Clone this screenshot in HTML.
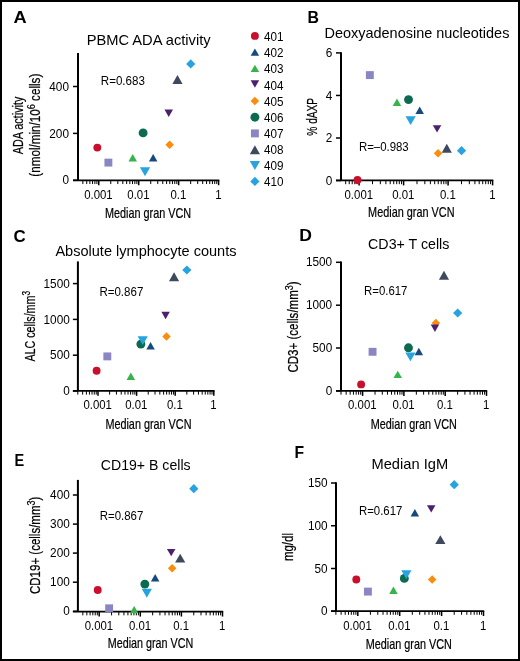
<!DOCTYPE html>
<html><head><meta charset="utf-8"><style>
html,body{margin:0;padding:0;background:#fff;}
body{width:520px;height:661px;overflow:hidden;}
svg{display:block;will-change:transform;}
text{font-family:"Liberation Sans",sans-serif;fill:#000;}
.hv{stroke:#000;stroke-width:0.22px;}
</style></head><body>
<svg width="520" height="661" viewBox="0 0 520 661">
<rect x="0" y="0" width="520" height="661" fill="#fff"/>
<line x1="78" y1="52.9" x2="78" y2="180.25" stroke="#000" stroke-width="2"/>
<line x1="73" y1="180.25" x2="219.3" y2="180.25" stroke="#000" stroke-width="1.75"/>
<line x1="73" y1="180.3" x2="78" y2="180.3" stroke="#000" stroke-width="1.5"/>
<text x="69.00" y="184.40" font-size="12.6" text-anchor="end" font-weight="normal" textLength="6.56" lengthAdjust="spacingAndGlyphs">0</text>
<line x1="73" y1="133.4" x2="78" y2="133.4" stroke="#000" stroke-width="1.5"/>
<text x="69.00" y="137.50" font-size="12.6" text-anchor="end" font-weight="normal" textLength="19.69" lengthAdjust="spacingAndGlyphs">200</text>
<line x1="73" y1="86.5" x2="78" y2="86.5" stroke="#000" stroke-width="1.5"/>
<text x="69.00" y="90.60" font-size="12.6" text-anchor="end" font-weight="normal" textLength="19.69" lengthAdjust="spacingAndGlyphs">400</text>
<line x1="82.85" y1="180.25" x2="82.85" y2="184.05" stroke="#000" stroke-width="1"/>
<line x1="86.72" y1="180.25" x2="86.72" y2="184.05" stroke="#000" stroke-width="1"/>
<line x1="89.89" y1="180.25" x2="89.89" y2="184.05" stroke="#000" stroke-width="1"/>
<line x1="92.56" y1="180.25" x2="92.56" y2="184.05" stroke="#000" stroke-width="1"/>
<line x1="94.88" y1="180.25" x2="94.88" y2="184.05" stroke="#000" stroke-width="1"/>
<line x1="96.92" y1="180.25" x2="96.92" y2="184.05" stroke="#000" stroke-width="1"/>
<line x1="98.75" y1="180.25" x2="98.75" y2="185.25" stroke="#000" stroke-width="1.5"/>
<line x1="110.78" y1="180.25" x2="110.78" y2="184.05" stroke="#000" stroke-width="1"/>
<line x1="117.81" y1="180.25" x2="117.81" y2="184.05" stroke="#000" stroke-width="1"/>
<line x1="122.80" y1="180.25" x2="122.80" y2="184.05" stroke="#000" stroke-width="1"/>
<line x1="126.67" y1="180.25" x2="126.67" y2="184.05" stroke="#000" stroke-width="1"/>
<line x1="129.84" y1="180.25" x2="129.84" y2="184.05" stroke="#000" stroke-width="1"/>
<line x1="132.51" y1="180.25" x2="132.51" y2="184.05" stroke="#000" stroke-width="1"/>
<line x1="134.83" y1="180.25" x2="134.83" y2="184.05" stroke="#000" stroke-width="1"/>
<line x1="136.87" y1="180.25" x2="136.87" y2="184.05" stroke="#000" stroke-width="1"/>
<line x1="138.70" y1="180.25" x2="138.70" y2="185.25" stroke="#000" stroke-width="1.5"/>
<line x1="150.73" y1="180.25" x2="150.73" y2="184.05" stroke="#000" stroke-width="1"/>
<line x1="157.76" y1="180.25" x2="157.76" y2="184.05" stroke="#000" stroke-width="1"/>
<line x1="162.75" y1="180.25" x2="162.75" y2="184.05" stroke="#000" stroke-width="1"/>
<line x1="166.62" y1="180.25" x2="166.62" y2="184.05" stroke="#000" stroke-width="1"/>
<line x1="169.79" y1="180.25" x2="169.79" y2="184.05" stroke="#000" stroke-width="1"/>
<line x1="172.46" y1="180.25" x2="172.46" y2="184.05" stroke="#000" stroke-width="1"/>
<line x1="174.78" y1="180.25" x2="174.78" y2="184.05" stroke="#000" stroke-width="1"/>
<line x1="176.82" y1="180.25" x2="176.82" y2="184.05" stroke="#000" stroke-width="1"/>
<line x1="178.65" y1="180.25" x2="178.65" y2="185.25" stroke="#000" stroke-width="1.5"/>
<line x1="190.68" y1="180.25" x2="190.68" y2="184.05" stroke="#000" stroke-width="1"/>
<line x1="197.71" y1="180.25" x2="197.71" y2="184.05" stroke="#000" stroke-width="1"/>
<line x1="202.70" y1="180.25" x2="202.70" y2="184.05" stroke="#000" stroke-width="1"/>
<line x1="206.57" y1="180.25" x2="206.57" y2="184.05" stroke="#000" stroke-width="1"/>
<line x1="209.74" y1="180.25" x2="209.74" y2="184.05" stroke="#000" stroke-width="1"/>
<line x1="212.41" y1="180.25" x2="212.41" y2="184.05" stroke="#000" stroke-width="1"/>
<line x1="214.73" y1="180.25" x2="214.73" y2="184.05" stroke="#000" stroke-width="1"/>
<line x1="216.77" y1="180.25" x2="216.77" y2="184.05" stroke="#000" stroke-width="1"/>
<line x1="218.60" y1="180.25" x2="218.60" y2="185.25" stroke="#000" stroke-width="1.5"/>
<text x="98.45" y="198.70" font-size="12.0" text-anchor="middle" font-weight="normal" textLength="28.53" lengthAdjust="spacingAndGlyphs">0.001</text>
<text x="138.40" y="198.70" font-size="12.0" text-anchor="middle" font-weight="normal" textLength="22.19" lengthAdjust="spacingAndGlyphs">0.01</text>
<text x="178.35" y="198.70" font-size="12.0" text-anchor="middle" font-weight="normal" textLength="15.85" lengthAdjust="spacingAndGlyphs">0.1</text>
<text x="218.30" y="198.70" font-size="12.0" text-anchor="middle" font-weight="normal" textLength="6.34" lengthAdjust="spacingAndGlyphs">1</text>
<line x1="341" y1="52.3" x2="341" y2="180.4" stroke="#000" stroke-width="2"/>
<line x1="336" y1="180.4" x2="493.3" y2="180.4" stroke="#000" stroke-width="1.75"/>
<line x1="336" y1="180.55" x2="341" y2="180.55" stroke="#000" stroke-width="1.5"/>
<text x="332.40" y="184.65" font-size="12.6" text-anchor="end" font-weight="normal" textLength="6.56" lengthAdjust="spacingAndGlyphs">0</text>
<line x1="336" y1="138.0" x2="341" y2="138.0" stroke="#000" stroke-width="1.5"/>
<text x="332.40" y="142.10" font-size="12.6" text-anchor="end" font-weight="normal" textLength="6.56" lengthAdjust="spacingAndGlyphs">2</text>
<line x1="336" y1="95.45" x2="341" y2="95.45" stroke="#000" stroke-width="1.5"/>
<text x="332.40" y="99.55" font-size="12.6" text-anchor="end" font-weight="normal" textLength="6.56" lengthAdjust="spacingAndGlyphs">4</text>
<line x1="336" y1="52.9" x2="341" y2="52.9" stroke="#000" stroke-width="1.5"/>
<text x="332.40" y="57.00" font-size="12.6" text-anchor="end" font-weight="normal" textLength="6.56" lengthAdjust="spacingAndGlyphs">6</text>
<line x1="345.70" y1="180.4" x2="345.70" y2="184.20000000000002" stroke="#000" stroke-width="1"/>
<line x1="349.23" y1="180.4" x2="349.23" y2="184.20000000000002" stroke="#000" stroke-width="1"/>
<line x1="352.21" y1="180.4" x2="352.21" y2="184.20000000000002" stroke="#000" stroke-width="1"/>
<line x1="354.79" y1="180.4" x2="354.79" y2="184.20000000000002" stroke="#000" stroke-width="1"/>
<line x1="357.06" y1="180.4" x2="357.06" y2="184.20000000000002" stroke="#000" stroke-width="1"/>
<line x1="359.10" y1="180.4" x2="359.10" y2="185.4" stroke="#000" stroke-width="1.5"/>
<line x1="372.50" y1="180.4" x2="372.50" y2="184.20000000000002" stroke="#000" stroke-width="1"/>
<line x1="380.33" y1="180.4" x2="380.33" y2="184.20000000000002" stroke="#000" stroke-width="1"/>
<line x1="385.89" y1="180.4" x2="385.89" y2="184.20000000000002" stroke="#000" stroke-width="1"/>
<line x1="390.20" y1="180.4" x2="390.20" y2="184.20000000000002" stroke="#000" stroke-width="1"/>
<line x1="393.73" y1="180.4" x2="393.73" y2="184.20000000000002" stroke="#000" stroke-width="1"/>
<line x1="396.71" y1="180.4" x2="396.71" y2="184.20000000000002" stroke="#000" stroke-width="1"/>
<line x1="399.29" y1="180.4" x2="399.29" y2="184.20000000000002" stroke="#000" stroke-width="1"/>
<line x1="401.56" y1="180.4" x2="401.56" y2="184.20000000000002" stroke="#000" stroke-width="1"/>
<line x1="403.60" y1="180.4" x2="403.60" y2="185.4" stroke="#000" stroke-width="1.5"/>
<line x1="417.00" y1="180.4" x2="417.00" y2="184.20000000000002" stroke="#000" stroke-width="1"/>
<line x1="424.83" y1="180.4" x2="424.83" y2="184.20000000000002" stroke="#000" stroke-width="1"/>
<line x1="430.39" y1="180.4" x2="430.39" y2="184.20000000000002" stroke="#000" stroke-width="1"/>
<line x1="434.70" y1="180.4" x2="434.70" y2="184.20000000000002" stroke="#000" stroke-width="1"/>
<line x1="438.23" y1="180.4" x2="438.23" y2="184.20000000000002" stroke="#000" stroke-width="1"/>
<line x1="441.21" y1="180.4" x2="441.21" y2="184.20000000000002" stroke="#000" stroke-width="1"/>
<line x1="443.79" y1="180.4" x2="443.79" y2="184.20000000000002" stroke="#000" stroke-width="1"/>
<line x1="446.06" y1="180.4" x2="446.06" y2="184.20000000000002" stroke="#000" stroke-width="1"/>
<line x1="448.10" y1="180.4" x2="448.10" y2="185.4" stroke="#000" stroke-width="1.5"/>
<line x1="461.50" y1="180.4" x2="461.50" y2="184.20000000000002" stroke="#000" stroke-width="1"/>
<line x1="469.33" y1="180.4" x2="469.33" y2="184.20000000000002" stroke="#000" stroke-width="1"/>
<line x1="474.89" y1="180.4" x2="474.89" y2="184.20000000000002" stroke="#000" stroke-width="1"/>
<line x1="479.20" y1="180.4" x2="479.20" y2="184.20000000000002" stroke="#000" stroke-width="1"/>
<line x1="482.73" y1="180.4" x2="482.73" y2="184.20000000000002" stroke="#000" stroke-width="1"/>
<line x1="485.71" y1="180.4" x2="485.71" y2="184.20000000000002" stroke="#000" stroke-width="1"/>
<line x1="488.29" y1="180.4" x2="488.29" y2="184.20000000000002" stroke="#000" stroke-width="1"/>
<line x1="490.56" y1="180.4" x2="490.56" y2="184.20000000000002" stroke="#000" stroke-width="1"/>
<line x1="492.60" y1="180.4" x2="492.60" y2="185.4" stroke="#000" stroke-width="1.5"/>
<text x="358.80" y="198.60" font-size="12.0" text-anchor="middle" font-weight="normal" textLength="28.53" lengthAdjust="spacingAndGlyphs">0.001</text>
<text x="403.30" y="198.60" font-size="12.0" text-anchor="middle" font-weight="normal" textLength="22.19" lengthAdjust="spacingAndGlyphs">0.01</text>
<text x="447.80" y="198.60" font-size="12.0" text-anchor="middle" font-weight="normal" textLength="15.85" lengthAdjust="spacingAndGlyphs">0.1</text>
<text x="492.30" y="198.60" font-size="12.0" text-anchor="middle" font-weight="normal" textLength="6.34" lengthAdjust="spacingAndGlyphs">1</text>
<line x1="77.9" y1="261.4" x2="77.9" y2="390.8" stroke="#000" stroke-width="2"/>
<line x1="72.9" y1="390.8" x2="214.5" y2="390.8" stroke="#000" stroke-width="1.75"/>
<line x1="72.9" y1="391.0" x2="77.9" y2="391.0" stroke="#000" stroke-width="1.5"/>
<text x="69.80" y="395.10" font-size="12.6" text-anchor="end" font-weight="normal" textLength="6.56" lengthAdjust="spacingAndGlyphs">0</text>
<line x1="72.9" y1="355.2" x2="77.9" y2="355.2" stroke="#000" stroke-width="1.5"/>
<text x="69.80" y="359.30" font-size="12.6" text-anchor="end" font-weight="normal" textLength="19.69" lengthAdjust="spacingAndGlyphs">500</text>
<line x1="72.9" y1="319.4" x2="77.9" y2="319.4" stroke="#000" stroke-width="1.5"/>
<text x="69.80" y="323.50" font-size="12.6" text-anchor="end" font-weight="normal" textLength="26.25" lengthAdjust="spacingAndGlyphs">1000</text>
<line x1="72.9" y1="283.6" x2="77.9" y2="283.6" stroke="#000" stroke-width="1.5"/>
<text x="69.80" y="287.70" font-size="12.6" text-anchor="end" font-weight="normal" textLength="26.25" lengthAdjust="spacingAndGlyphs">1500</text>
<line x1="77.82" y1="390.8" x2="77.82" y2="394.6" stroke="#000" stroke-width="1"/>
<line x1="82.64" y1="390.8" x2="82.64" y2="394.6" stroke="#000" stroke-width="1"/>
<line x1="86.38" y1="390.8" x2="86.38" y2="394.6" stroke="#000" stroke-width="1"/>
<line x1="89.44" y1="390.8" x2="89.44" y2="394.6" stroke="#000" stroke-width="1"/>
<line x1="92.02" y1="390.8" x2="92.02" y2="394.6" stroke="#000" stroke-width="1"/>
<line x1="94.26" y1="390.8" x2="94.26" y2="394.6" stroke="#000" stroke-width="1"/>
<line x1="96.23" y1="390.8" x2="96.23" y2="394.6" stroke="#000" stroke-width="1"/>
<line x1="98.00" y1="390.8" x2="98.00" y2="395.8" stroke="#000" stroke-width="1.5"/>
<line x1="109.62" y1="390.8" x2="109.62" y2="394.6" stroke="#000" stroke-width="1"/>
<line x1="116.42" y1="390.8" x2="116.42" y2="394.6" stroke="#000" stroke-width="1"/>
<line x1="121.24" y1="390.8" x2="121.24" y2="394.6" stroke="#000" stroke-width="1"/>
<line x1="124.98" y1="390.8" x2="124.98" y2="394.6" stroke="#000" stroke-width="1"/>
<line x1="128.04" y1="390.8" x2="128.04" y2="394.6" stroke="#000" stroke-width="1"/>
<line x1="130.62" y1="390.8" x2="130.62" y2="394.6" stroke="#000" stroke-width="1"/>
<line x1="132.86" y1="390.8" x2="132.86" y2="394.6" stroke="#000" stroke-width="1"/>
<line x1="134.83" y1="390.8" x2="134.83" y2="394.6" stroke="#000" stroke-width="1"/>
<line x1="136.60" y1="390.8" x2="136.60" y2="395.8" stroke="#000" stroke-width="1.5"/>
<line x1="148.22" y1="390.8" x2="148.22" y2="394.6" stroke="#000" stroke-width="1"/>
<line x1="155.02" y1="390.8" x2="155.02" y2="394.6" stroke="#000" stroke-width="1"/>
<line x1="159.84" y1="390.8" x2="159.84" y2="394.6" stroke="#000" stroke-width="1"/>
<line x1="163.58" y1="390.8" x2="163.58" y2="394.6" stroke="#000" stroke-width="1"/>
<line x1="166.64" y1="390.8" x2="166.64" y2="394.6" stroke="#000" stroke-width="1"/>
<line x1="169.22" y1="390.8" x2="169.22" y2="394.6" stroke="#000" stroke-width="1"/>
<line x1="171.46" y1="390.8" x2="171.46" y2="394.6" stroke="#000" stroke-width="1"/>
<line x1="173.43" y1="390.8" x2="173.43" y2="394.6" stroke="#000" stroke-width="1"/>
<line x1="175.20" y1="390.8" x2="175.20" y2="395.8" stroke="#000" stroke-width="1.5"/>
<line x1="186.82" y1="390.8" x2="186.82" y2="394.6" stroke="#000" stroke-width="1"/>
<line x1="193.62" y1="390.8" x2="193.62" y2="394.6" stroke="#000" stroke-width="1"/>
<line x1="198.44" y1="390.8" x2="198.44" y2="394.6" stroke="#000" stroke-width="1"/>
<line x1="202.18" y1="390.8" x2="202.18" y2="394.6" stroke="#000" stroke-width="1"/>
<line x1="205.24" y1="390.8" x2="205.24" y2="394.6" stroke="#000" stroke-width="1"/>
<line x1="207.82" y1="390.8" x2="207.82" y2="394.6" stroke="#000" stroke-width="1"/>
<line x1="210.06" y1="390.8" x2="210.06" y2="394.6" stroke="#000" stroke-width="1"/>
<line x1="212.03" y1="390.8" x2="212.03" y2="394.6" stroke="#000" stroke-width="1"/>
<line x1="213.80" y1="390.8" x2="213.80" y2="395.8" stroke="#000" stroke-width="1.5"/>
<text x="97.70" y="408.90" font-size="12.0" text-anchor="middle" font-weight="normal" textLength="28.53" lengthAdjust="spacingAndGlyphs">0.001</text>
<text x="136.30" y="408.90" font-size="12.0" text-anchor="middle" font-weight="normal" textLength="22.19" lengthAdjust="spacingAndGlyphs">0.01</text>
<text x="174.90" y="408.90" font-size="12.0" text-anchor="middle" font-weight="normal" textLength="15.85" lengthAdjust="spacingAndGlyphs">0.1</text>
<text x="213.50" y="408.90" font-size="12.0" text-anchor="middle" font-weight="normal" textLength="6.34" lengthAdjust="spacingAndGlyphs">1</text>
<line x1="341" y1="261.6" x2="341" y2="390.9" stroke="#000" stroke-width="2"/>
<line x1="336" y1="390.9" x2="487.2" y2="390.9" stroke="#000" stroke-width="1.75"/>
<line x1="336" y1="390.9" x2="341" y2="390.9" stroke="#000" stroke-width="1.5"/>
<text x="332.20" y="395.00" font-size="12.6" text-anchor="end" font-weight="normal" textLength="6.56" lengthAdjust="spacingAndGlyphs">0</text>
<line x1="336" y1="348.0" x2="341" y2="348.0" stroke="#000" stroke-width="1.5"/>
<text x="332.20" y="352.10" font-size="12.6" text-anchor="end" font-weight="normal" textLength="19.69" lengthAdjust="spacingAndGlyphs">500</text>
<line x1="336" y1="305.2" x2="341" y2="305.2" stroke="#000" stroke-width="1.5"/>
<text x="332.20" y="309.30" font-size="12.6" text-anchor="end" font-weight="normal" textLength="26.25" lengthAdjust="spacingAndGlyphs">1000</text>
<line x1="336" y1="262.3" x2="341" y2="262.3" stroke="#000" stroke-width="1.5"/>
<text x="332.20" y="266.40" font-size="12.6" text-anchor="end" font-weight="normal" textLength="26.25" lengthAdjust="spacingAndGlyphs">1500</text>
<line x1="341.01" y1="390.9" x2="341.01" y2="394.7" stroke="#000" stroke-width="1"/>
<line x1="346.17" y1="390.9" x2="346.17" y2="394.7" stroke="#000" stroke-width="1"/>
<line x1="350.17" y1="390.9" x2="350.17" y2="394.7" stroke="#000" stroke-width="1"/>
<line x1="353.44" y1="390.9" x2="353.44" y2="394.7" stroke="#000" stroke-width="1"/>
<line x1="356.20" y1="390.9" x2="356.20" y2="394.7" stroke="#000" stroke-width="1"/>
<line x1="358.60" y1="390.9" x2="358.60" y2="394.7" stroke="#000" stroke-width="1"/>
<line x1="360.71" y1="390.9" x2="360.71" y2="394.7" stroke="#000" stroke-width="1"/>
<line x1="362.60" y1="390.9" x2="362.60" y2="395.9" stroke="#000" stroke-width="1.5"/>
<line x1="375.03" y1="390.9" x2="375.03" y2="394.7" stroke="#000" stroke-width="1"/>
<line x1="382.31" y1="390.9" x2="382.31" y2="394.7" stroke="#000" stroke-width="1"/>
<line x1="387.47" y1="390.9" x2="387.47" y2="394.7" stroke="#000" stroke-width="1"/>
<line x1="391.47" y1="390.9" x2="391.47" y2="394.7" stroke="#000" stroke-width="1"/>
<line x1="394.74" y1="390.9" x2="394.74" y2="394.7" stroke="#000" stroke-width="1"/>
<line x1="397.50" y1="390.9" x2="397.50" y2="394.7" stroke="#000" stroke-width="1"/>
<line x1="399.90" y1="390.9" x2="399.90" y2="394.7" stroke="#000" stroke-width="1"/>
<line x1="402.01" y1="390.9" x2="402.01" y2="394.7" stroke="#000" stroke-width="1"/>
<line x1="403.90" y1="390.9" x2="403.90" y2="395.9" stroke="#000" stroke-width="1.5"/>
<line x1="416.33" y1="390.9" x2="416.33" y2="394.7" stroke="#000" stroke-width="1"/>
<line x1="423.61" y1="390.9" x2="423.61" y2="394.7" stroke="#000" stroke-width="1"/>
<line x1="428.77" y1="390.9" x2="428.77" y2="394.7" stroke="#000" stroke-width="1"/>
<line x1="432.77" y1="390.9" x2="432.77" y2="394.7" stroke="#000" stroke-width="1"/>
<line x1="436.04" y1="390.9" x2="436.04" y2="394.7" stroke="#000" stroke-width="1"/>
<line x1="438.80" y1="390.9" x2="438.80" y2="394.7" stroke="#000" stroke-width="1"/>
<line x1="441.20" y1="390.9" x2="441.20" y2="394.7" stroke="#000" stroke-width="1"/>
<line x1="443.31" y1="390.9" x2="443.31" y2="394.7" stroke="#000" stroke-width="1"/>
<line x1="445.20" y1="390.9" x2="445.20" y2="395.9" stroke="#000" stroke-width="1.5"/>
<line x1="457.63" y1="390.9" x2="457.63" y2="394.7" stroke="#000" stroke-width="1"/>
<line x1="464.91" y1="390.9" x2="464.91" y2="394.7" stroke="#000" stroke-width="1"/>
<line x1="470.07" y1="390.9" x2="470.07" y2="394.7" stroke="#000" stroke-width="1"/>
<line x1="474.07" y1="390.9" x2="474.07" y2="394.7" stroke="#000" stroke-width="1"/>
<line x1="477.34" y1="390.9" x2="477.34" y2="394.7" stroke="#000" stroke-width="1"/>
<line x1="480.10" y1="390.9" x2="480.10" y2="394.7" stroke="#000" stroke-width="1"/>
<line x1="482.50" y1="390.9" x2="482.50" y2="394.7" stroke="#000" stroke-width="1"/>
<line x1="484.61" y1="390.9" x2="484.61" y2="394.7" stroke="#000" stroke-width="1"/>
<line x1="486.50" y1="390.9" x2="486.50" y2="395.9" stroke="#000" stroke-width="1.5"/>
<text x="362.30" y="408.90" font-size="12.0" text-anchor="middle" font-weight="normal" textLength="28.53" lengthAdjust="spacingAndGlyphs">0.001</text>
<text x="403.60" y="408.90" font-size="12.0" text-anchor="middle" font-weight="normal" textLength="22.19" lengthAdjust="spacingAndGlyphs">0.01</text>
<text x="444.90" y="408.90" font-size="12.0" text-anchor="middle" font-weight="normal" textLength="15.85" lengthAdjust="spacingAndGlyphs">0.1</text>
<text x="486.20" y="408.90" font-size="12.0" text-anchor="middle" font-weight="normal" textLength="6.34" lengthAdjust="spacingAndGlyphs">1</text>
<line x1="77.9" y1="479.9" x2="77.9" y2="611.55" stroke="#000" stroke-width="2"/>
<line x1="72.9" y1="611.55" x2="223.2" y2="611.55" stroke="#000" stroke-width="1.75"/>
<line x1="72.9" y1="611.3" x2="77.9" y2="611.3" stroke="#000" stroke-width="1.5"/>
<text x="69.80" y="615.40" font-size="12.6" text-anchor="end" font-weight="normal" textLength="6.56" lengthAdjust="spacingAndGlyphs">0</text>
<line x1="72.9" y1="582.2" x2="77.9" y2="582.2" stroke="#000" stroke-width="1.5"/>
<text x="69.80" y="586.30" font-size="12.6" text-anchor="end" font-weight="normal" textLength="19.69" lengthAdjust="spacingAndGlyphs">100</text>
<line x1="72.9" y1="553.1" x2="77.9" y2="553.1" stroke="#000" stroke-width="1.5"/>
<text x="69.80" y="557.20" font-size="12.6" text-anchor="end" font-weight="normal" textLength="19.69" lengthAdjust="spacingAndGlyphs">200</text>
<line x1="72.9" y1="524.1" x2="77.9" y2="524.1" stroke="#000" stroke-width="1.5"/>
<text x="69.80" y="528.20" font-size="12.6" text-anchor="end" font-weight="normal" textLength="19.69" lengthAdjust="spacingAndGlyphs">300</text>
<line x1="72.9" y1="495.0" x2="77.9" y2="495.0" stroke="#000" stroke-width="1.5"/>
<text x="69.80" y="499.10" font-size="12.6" text-anchor="end" font-weight="normal" textLength="19.69" lengthAdjust="spacingAndGlyphs">400</text>
<line x1="82.84" y1="611.55" x2="82.84" y2="615.3499999999999" stroke="#000" stroke-width="1"/>
<line x1="86.83" y1="611.55" x2="86.83" y2="615.3499999999999" stroke="#000" stroke-width="1"/>
<line x1="90.08" y1="611.55" x2="90.08" y2="615.3499999999999" stroke="#000" stroke-width="1"/>
<line x1="92.83" y1="611.55" x2="92.83" y2="615.3499999999999" stroke="#000" stroke-width="1"/>
<line x1="95.22" y1="611.55" x2="95.22" y2="615.3499999999999" stroke="#000" stroke-width="1"/>
<line x1="97.32" y1="611.55" x2="97.32" y2="615.3499999999999" stroke="#000" stroke-width="1"/>
<line x1="99.20" y1="611.55" x2="99.20" y2="616.55" stroke="#000" stroke-width="1.5"/>
<line x1="111.57" y1="611.55" x2="111.57" y2="615.3499999999999" stroke="#000" stroke-width="1"/>
<line x1="118.81" y1="611.55" x2="118.81" y2="615.3499999999999" stroke="#000" stroke-width="1"/>
<line x1="123.94" y1="611.55" x2="123.94" y2="615.3499999999999" stroke="#000" stroke-width="1"/>
<line x1="127.93" y1="611.55" x2="127.93" y2="615.3499999999999" stroke="#000" stroke-width="1"/>
<line x1="131.18" y1="611.55" x2="131.18" y2="615.3499999999999" stroke="#000" stroke-width="1"/>
<line x1="133.93" y1="611.55" x2="133.93" y2="615.3499999999999" stroke="#000" stroke-width="1"/>
<line x1="136.32" y1="611.55" x2="136.32" y2="615.3499999999999" stroke="#000" stroke-width="1"/>
<line x1="138.42" y1="611.55" x2="138.42" y2="615.3499999999999" stroke="#000" stroke-width="1"/>
<line x1="140.30" y1="611.55" x2="140.30" y2="616.55" stroke="#000" stroke-width="1.5"/>
<line x1="152.67" y1="611.55" x2="152.67" y2="615.3499999999999" stroke="#000" stroke-width="1"/>
<line x1="159.91" y1="611.55" x2="159.91" y2="615.3499999999999" stroke="#000" stroke-width="1"/>
<line x1="165.04" y1="611.55" x2="165.04" y2="615.3499999999999" stroke="#000" stroke-width="1"/>
<line x1="169.03" y1="611.55" x2="169.03" y2="615.3499999999999" stroke="#000" stroke-width="1"/>
<line x1="172.28" y1="611.55" x2="172.28" y2="615.3499999999999" stroke="#000" stroke-width="1"/>
<line x1="175.03" y1="611.55" x2="175.03" y2="615.3499999999999" stroke="#000" stroke-width="1"/>
<line x1="177.42" y1="611.55" x2="177.42" y2="615.3499999999999" stroke="#000" stroke-width="1"/>
<line x1="179.52" y1="611.55" x2="179.52" y2="615.3499999999999" stroke="#000" stroke-width="1"/>
<line x1="181.40" y1="611.55" x2="181.40" y2="616.55" stroke="#000" stroke-width="1.5"/>
<line x1="193.77" y1="611.55" x2="193.77" y2="615.3499999999999" stroke="#000" stroke-width="1"/>
<line x1="201.01" y1="611.55" x2="201.01" y2="615.3499999999999" stroke="#000" stroke-width="1"/>
<line x1="206.14" y1="611.55" x2="206.14" y2="615.3499999999999" stroke="#000" stroke-width="1"/>
<line x1="210.13" y1="611.55" x2="210.13" y2="615.3499999999999" stroke="#000" stroke-width="1"/>
<line x1="213.38" y1="611.55" x2="213.38" y2="615.3499999999999" stroke="#000" stroke-width="1"/>
<line x1="216.13" y1="611.55" x2="216.13" y2="615.3499999999999" stroke="#000" stroke-width="1"/>
<line x1="218.52" y1="611.55" x2="218.52" y2="615.3499999999999" stroke="#000" stroke-width="1"/>
<line x1="220.62" y1="611.55" x2="220.62" y2="615.3499999999999" stroke="#000" stroke-width="1"/>
<line x1="222.50" y1="611.55" x2="222.50" y2="616.55" stroke="#000" stroke-width="1.5"/>
<text x="98.90" y="630.10" font-size="12.0" text-anchor="middle" font-weight="normal" textLength="28.53" lengthAdjust="spacingAndGlyphs">0.001</text>
<text x="140.00" y="630.10" font-size="12.0" text-anchor="middle" font-weight="normal" textLength="22.19" lengthAdjust="spacingAndGlyphs">0.01</text>
<text x="181.10" y="630.10" font-size="12.0" text-anchor="middle" font-weight="normal" textLength="15.85" lengthAdjust="spacingAndGlyphs">0.1</text>
<text x="222.20" y="630.10" font-size="12.0" text-anchor="middle" font-weight="normal" textLength="6.34" lengthAdjust="spacingAndGlyphs">1</text>
<line x1="336" y1="482.3" x2="336" y2="611.0" stroke="#000" stroke-width="2"/>
<line x1="331" y1="611.0" x2="484.2" y2="611.0" stroke="#000" stroke-width="1.75"/>
<line x1="331" y1="611.25" x2="336" y2="611.25" stroke="#000" stroke-width="1.5"/>
<text x="327.60" y="615.35" font-size="12.6" text-anchor="end" font-weight="normal" textLength="6.56" lengthAdjust="spacingAndGlyphs">0</text>
<line x1="331" y1="568.5" x2="336" y2="568.5" stroke="#000" stroke-width="1.5"/>
<text x="327.60" y="572.60" font-size="12.6" text-anchor="end" font-weight="normal" textLength="13.13" lengthAdjust="spacingAndGlyphs">50</text>
<line x1="331" y1="525.75" x2="336" y2="525.75" stroke="#000" stroke-width="1.5"/>
<text x="327.60" y="529.85" font-size="12.6" text-anchor="end" font-weight="normal" textLength="19.69" lengthAdjust="spacingAndGlyphs">100</text>
<line x1="331" y1="483.0" x2="336" y2="483.0" stroke="#000" stroke-width="1.5"/>
<text x="327.60" y="487.10" font-size="12.6" text-anchor="end" font-weight="normal" textLength="19.69" lengthAdjust="spacingAndGlyphs">150</text>
<line x1="335.89" y1="611.0" x2="335.89" y2="614.8" stroke="#000" stroke-width="1"/>
<line x1="341.13" y1="611.0" x2="341.13" y2="614.8" stroke="#000" stroke-width="1"/>
<line x1="345.19" y1="611.0" x2="345.19" y2="614.8" stroke="#000" stroke-width="1"/>
<line x1="348.50" y1="611.0" x2="348.50" y2="614.8" stroke="#000" stroke-width="1"/>
<line x1="351.31" y1="611.0" x2="351.31" y2="614.8" stroke="#000" stroke-width="1"/>
<line x1="353.74" y1="611.0" x2="353.74" y2="614.8" stroke="#000" stroke-width="1"/>
<line x1="355.88" y1="611.0" x2="355.88" y2="614.8" stroke="#000" stroke-width="1"/>
<line x1="357.80" y1="611.0" x2="357.80" y2="616.0" stroke="#000" stroke-width="1.5"/>
<line x1="370.41" y1="611.0" x2="370.41" y2="614.8" stroke="#000" stroke-width="1"/>
<line x1="377.79" y1="611.0" x2="377.79" y2="614.8" stroke="#000" stroke-width="1"/>
<line x1="383.03" y1="611.0" x2="383.03" y2="614.8" stroke="#000" stroke-width="1"/>
<line x1="387.09" y1="611.0" x2="387.09" y2="614.8" stroke="#000" stroke-width="1"/>
<line x1="390.40" y1="611.0" x2="390.40" y2="614.8" stroke="#000" stroke-width="1"/>
<line x1="393.21" y1="611.0" x2="393.21" y2="614.8" stroke="#000" stroke-width="1"/>
<line x1="395.64" y1="611.0" x2="395.64" y2="614.8" stroke="#000" stroke-width="1"/>
<line x1="397.78" y1="611.0" x2="397.78" y2="614.8" stroke="#000" stroke-width="1"/>
<line x1="399.70" y1="611.0" x2="399.70" y2="616.0" stroke="#000" stroke-width="1.5"/>
<line x1="412.31" y1="611.0" x2="412.31" y2="614.8" stroke="#000" stroke-width="1"/>
<line x1="419.69" y1="611.0" x2="419.69" y2="614.8" stroke="#000" stroke-width="1"/>
<line x1="424.93" y1="611.0" x2="424.93" y2="614.8" stroke="#000" stroke-width="1"/>
<line x1="428.99" y1="611.0" x2="428.99" y2="614.8" stroke="#000" stroke-width="1"/>
<line x1="432.30" y1="611.0" x2="432.30" y2="614.8" stroke="#000" stroke-width="1"/>
<line x1="435.11" y1="611.0" x2="435.11" y2="614.8" stroke="#000" stroke-width="1"/>
<line x1="437.54" y1="611.0" x2="437.54" y2="614.8" stroke="#000" stroke-width="1"/>
<line x1="439.68" y1="611.0" x2="439.68" y2="614.8" stroke="#000" stroke-width="1"/>
<line x1="441.60" y1="611.0" x2="441.60" y2="616.0" stroke="#000" stroke-width="1.5"/>
<line x1="454.21" y1="611.0" x2="454.21" y2="614.8" stroke="#000" stroke-width="1"/>
<line x1="461.59" y1="611.0" x2="461.59" y2="614.8" stroke="#000" stroke-width="1"/>
<line x1="466.83" y1="611.0" x2="466.83" y2="614.8" stroke="#000" stroke-width="1"/>
<line x1="470.89" y1="611.0" x2="470.89" y2="614.8" stroke="#000" stroke-width="1"/>
<line x1="474.20" y1="611.0" x2="474.20" y2="614.8" stroke="#000" stroke-width="1"/>
<line x1="477.01" y1="611.0" x2="477.01" y2="614.8" stroke="#000" stroke-width="1"/>
<line x1="479.44" y1="611.0" x2="479.44" y2="614.8" stroke="#000" stroke-width="1"/>
<line x1="481.58" y1="611.0" x2="481.58" y2="614.8" stroke="#000" stroke-width="1"/>
<line x1="483.50" y1="611.0" x2="483.50" y2="616.0" stroke="#000" stroke-width="1.5"/>
<text x="357.50" y="630.10" font-size="12.0" text-anchor="middle" font-weight="normal" textLength="28.53" lengthAdjust="spacingAndGlyphs">0.001</text>
<text x="399.40" y="630.10" font-size="12.0" text-anchor="middle" font-weight="normal" textLength="22.19" lengthAdjust="spacingAndGlyphs">0.01</text>
<text x="441.30" y="630.10" font-size="12.0" text-anchor="middle" font-weight="normal" textLength="15.85" lengthAdjust="spacingAndGlyphs">0.1</text>
<text x="483.20" y="630.10" font-size="12.0" text-anchor="middle" font-weight="normal" textLength="6.34" lengthAdjust="spacingAndGlyphs">1</text>
<text transform="translate(13.5,22.9) scale(1.08,1)" x="0" y="0" font-size="16.9" font-weight="bold">A</text>
<text transform="translate(307.6,22.9) scale(0.94,1)" x="0" y="0" font-size="16.9" font-weight="bold">B</text>
<text transform="translate(13.5,241.7) scale(1.0,1)" x="0" y="0" font-size="16.9" font-weight="bold">C</text>
<text transform="translate(299.2,241.3) scale(1.04,1)" x="0" y="0" font-size="16.9" font-weight="bold">D</text>
<text transform="translate(14.4,465.5) scale(0.86,1)" x="0" y="0" font-size="16.9" font-weight="bold">E</text>
<text transform="translate(294.5,458.1) scale(0.93,1)" x="0" y="0" font-size="16.9" font-weight="bold">F</text>
<text x="86.70" y="44.70" font-size="14.2" text-anchor="start" font-weight="normal" textLength="123.90" lengthAdjust="spacingAndGlyphs">PBMC ADA activity</text>
<text x="324.50" y="38.20" font-size="14.2" text-anchor="start" font-weight="normal" textLength="184.90" lengthAdjust="spacingAndGlyphs">Deoxyadenosine nucleotides</text>
<text x="55.40" y="256.00" font-size="14.2" text-anchor="start" font-weight="normal" textLength="181.10" lengthAdjust="spacingAndGlyphs">Absolute lymphocyte counts</text>
<text x="368.10" y="248.70" font-size="14.2" text-anchor="start" font-weight="normal" textLength="81.30" lengthAdjust="spacingAndGlyphs">CD3+ T cells</text>
<text x="100.80" y="470.00" font-size="14.2" text-anchor="start" font-weight="normal" textLength="89.80" lengthAdjust="spacingAndGlyphs">CD19+ B cells</text>
<text x="371.50" y="469.20" font-size="14.2" text-anchor="start" font-weight="normal" textLength="76.60" lengthAdjust="spacingAndGlyphs">Median IgM</text>
<text x="105.00" y="217.50" font-size="14.3" text-anchor="start" font-weight="normal" textLength="86.20" lengthAdjust="spacingAndGlyphs" class="hv">Median gran VCN</text>
<text x="368.10" y="217.20" font-size="14.3" text-anchor="start" font-weight="normal" textLength="86.50" lengthAdjust="spacingAndGlyphs" class="hv">Median gran VCN</text>
<text x="105.40" y="429.30" font-size="14.3" text-anchor="start" font-weight="normal" textLength="86.10" lengthAdjust="spacingAndGlyphs" class="hv">Median gran VCN</text>
<text x="370.80" y="429.00" font-size="14.3" text-anchor="start" font-weight="normal" textLength="86.10" lengthAdjust="spacingAndGlyphs" class="hv">Median gran VCN</text>
<text x="107.70" y="648.40" font-size="14.3" text-anchor="start" font-weight="normal" textLength="85.60" lengthAdjust="spacingAndGlyphs" class="hv">Median gran VCN</text>
<text x="365.80" y="649.00" font-size="14.3" text-anchor="start" font-weight="normal" textLength="86.10" lengthAdjust="spacingAndGlyphs" class="hv">Median gran VCN</text>
<text x="100.80" y="84.70" font-size="12.2" text-anchor="start" font-weight="normal" textLength="44.10" lengthAdjust="spacingAndGlyphs">R=0.683</text>
<text x="358.90" y="151.00" font-size="12.2" text-anchor="start" font-weight="normal" textLength="49.80" lengthAdjust="spacingAndGlyphs">R=–0.983</text>
<text x="99.40" y="295.50" font-size="12.2" text-anchor="start" font-weight="normal" textLength="43.90" lengthAdjust="spacingAndGlyphs">R=0.867</text>
<text x="364.00" y="295.00" font-size="12.2" text-anchor="start" font-weight="normal" textLength="43.40" lengthAdjust="spacingAndGlyphs">R=0.617</text>
<text x="99.70" y="519.60" font-size="12.2" text-anchor="start" font-weight="normal" textLength="43.60" lengthAdjust="spacingAndGlyphs">R=0.867</text>
<text x="359.00" y="515.40" font-size="12.2" text-anchor="start" font-weight="normal" textLength="43.30" lengthAdjust="spacingAndGlyphs">R=0.617</text>
<text class="hv" transform="translate(23.30,154.20) rotate(-90)" x="0" y="0" font-size="14.8" textLength="57.50" lengthAdjust="spacingAndGlyphs">ADA activity</text>
<text class="hv" transform="translate(40.00,176.70) rotate(-90)" x="0" y="0" font-size="14.8" textLength="103.00" lengthAdjust="spacingAndGlyphs">(nmol/min/10<tspan dy="-5.2" font-size="11.5">6</tspan><tspan dy="5.2"> cells)</tspan></text>
<text class="hv" transform="translate(316.80,135.70) rotate(-90)" x="0" y="0" font-size="15" textLength="37.80" lengthAdjust="spacingAndGlyphs">% dAXP</text>
<text class="hv" transform="translate(35.10,361.60) rotate(-90)" x="0" y="0" font-size="14.8" textLength="70.70" lengthAdjust="spacingAndGlyphs">ALC cells/mm<tspan dy="-5.2" font-size="11.5">3</tspan></text>
<text class="hv" transform="translate(298.30,372.60) rotate(-90)" x="0" y="0" font-size="14.8" textLength="91.30" lengthAdjust="spacingAndGlyphs">CD3+ (cells/mm<tspan dy="-5.2" font-size="11.5">3</tspan><tspan dy="5.2">)</tspan></text>
<text class="hv" transform="translate(40.30,594.00) rotate(-90)" x="0" y="0" font-size="14.8" textLength="97.30" lengthAdjust="spacingAndGlyphs">CD19+ (cells/mm<tspan dy="-5.2" font-size="11.5">3</tspan><tspan dy="5.2">)</tspan></text>
<text class="hv" transform="translate(293.00,561.10) rotate(-90)" x="0" y="0" font-size="14.8" textLength="28.10" lengthAdjust="spacingAndGlyphs">mg/dl</text>
<circle cx="254.90" cy="35.90" r="3.95" fill="#c8102e"/>
<text x="264.00" y="41.25" font-size="12.6" text-anchor="start" font-weight="normal" textLength="19.50" lengthAdjust="spacingAndGlyphs">401</text>
<polygon points="254.90,48.40 259.15,55.80 250.65,55.80" fill="#17497f"/>
<text x="264.00" y="57.36" font-size="12.6" text-anchor="start" font-weight="normal" textLength="19.50" lengthAdjust="spacingAndGlyphs">402</text>
<polygon points="254.90,64.70 259.15,72.10 250.65,72.10" fill="#36b34a"/>
<text x="264.00" y="73.47" font-size="12.6" text-anchor="start" font-weight="normal" textLength="19.50" lengthAdjust="spacingAndGlyphs">403</text>
<polygon points="254.90,87.70 259.15,80.30 250.65,80.30" fill="#4d1f6e"/>
<text x="264.00" y="89.58" font-size="12.6" text-anchor="start" font-weight="normal" textLength="19.50" lengthAdjust="spacingAndGlyphs">404</text>
<polygon points="254.90,96.65 259.15,100.90 254.90,105.15 250.65,100.90" fill="#fb8c0c"/>
<text x="264.00" y="105.69" font-size="12.6" text-anchor="start" font-weight="normal" textLength="19.50" lengthAdjust="spacingAndGlyphs">405</text>
<circle cx="254.90" cy="117.20" r="4.45" fill="#0b6a4f"/>
<text x="264.00" y="121.80" font-size="12.6" text-anchor="start" font-weight="normal" textLength="19.50" lengthAdjust="spacingAndGlyphs">406</text>
<rect x="250.95" y="129.45" width="7.90" height="7.90" fill="#8a86c4"/>
<text x="264.00" y="137.91" font-size="12.6" text-anchor="start" font-weight="normal" textLength="19.50" lengthAdjust="spacingAndGlyphs">407</text>
<polygon points="254.90,145.26 260.00,154.14 249.80,154.14" fill="#3d4a5e"/>
<text x="264.00" y="154.02" font-size="12.6" text-anchor="start" font-weight="normal" textLength="19.50" lengthAdjust="spacingAndGlyphs">408</text>
<polygon points="254.90,169.94 260.00,161.06 249.80,161.06" fill="#27a3e0"/>
<text x="264.00" y="170.13" font-size="12.6" text-anchor="start" font-weight="normal" textLength="19.50" lengthAdjust="spacingAndGlyphs">409</text>
<polygon points="254.90,176.80 259.50,181.40 254.90,186.00 250.30,181.40" fill="#27a3e0"/>
<text x="264.00" y="186.24" font-size="12.6" text-anchor="start" font-weight="normal" textLength="19.50" lengthAdjust="spacingAndGlyphs">410</text>
<circle cx="97.31" cy="147.60" r="3.95" fill="#c8102e"/>
<polygon points="153.16,154.00 157.41,161.40 148.91,161.40" fill="#17497f"/>
<polygon points="132.73,154.00 136.98,161.40 128.48,161.40" fill="#36b34a"/>
<polygon points="169.65,140.45 173.90,144.70 169.65,148.95 165.40,144.70" fill="#fb8c0c"/>
<polygon points="168.73,117.00 172.98,109.60 164.48,109.60" fill="#4d1f6e"/>
<circle cx="143.11" cy="132.90" r="4.45" fill="#0b6a4f"/>
<rect x="104.44" y="158.65" width="7.90" height="7.90" fill="#8a86c4"/>
<polygon points="177.47,75.06 182.57,83.94 172.37,83.94" fill="#3d4a5e"/>
<polygon points="145.02,176.24 150.12,167.36 139.92,167.36" fill="#27a3e0"/>
<polygon points="190.71,59.30 195.31,63.90 190.71,68.50 186.11,63.90" fill="#27a3e0"/>
<circle cx="357.49" cy="180.00" r="3.95" fill="#c8102e"/>
<polygon points="419.70,106.60 423.95,114.00 415.45,114.00" fill="#17497f"/>
<polygon points="396.95,98.60 401.20,106.00 392.70,106.00" fill="#36b34a"/>
<polygon points="438.07,148.95 442.32,153.20 438.07,157.45 433.82,153.20" fill="#fb8c0c"/>
<polygon points="437.05,132.60 441.30,125.20 432.80,125.20" fill="#4d1f6e"/>
<circle cx="408.52" cy="99.60" r="4.45" fill="#0b6a4f"/>
<rect x="365.89" y="71.15" width="7.90" height="7.90" fill="#8a86c4"/>
<polygon points="446.79,143.86 451.89,152.74 441.69,152.74" fill="#3d4a5e"/>
<polygon points="410.64,125.04 415.74,116.16 405.54,116.16" fill="#27a3e0"/>
<polygon points="461.53,146.10 466.13,150.70 461.53,155.30 456.93,150.70" fill="#27a3e0"/>
<circle cx="96.61" cy="370.70" r="3.95" fill="#c8102e"/>
<polygon points="150.57,342.10 154.82,349.50 146.32,349.50" fill="#17497f"/>
<polygon points="130.83,372.60 135.08,380.00 126.58,380.00" fill="#36b34a"/>
<polygon points="166.50,332.25 170.75,336.50 166.50,340.75 162.25,336.50" fill="#fb8c0c"/>
<polygon points="165.61,319.20 169.86,311.80 161.36,311.80" fill="#4d1f6e"/>
<circle cx="140.86" cy="344.10" r="4.45" fill="#0b6a4f"/>
<rect x="103.36" y="352.45" width="7.90" height="7.90" fill="#8a86c4"/>
<polygon points="174.06,272.26 179.16,281.14 168.96,281.14" fill="#3d4a5e"/>
<polygon points="142.71,345.04 147.81,336.16 137.61,336.16" fill="#27a3e0"/>
<polygon points="186.85,265.40 191.45,270.00 186.85,274.60 182.25,270.00" fill="#27a3e0"/>
<circle cx="361.11" cy="384.40" r="3.95" fill="#c8102e"/>
<polygon points="418.85,347.80 423.10,355.20 414.60,355.20" fill="#17497f"/>
<polygon points="397.73,370.70 401.98,378.10 393.48,378.10" fill="#36b34a"/>
<polygon points="435.89,318.75 440.14,323.00 435.89,327.25 431.64,323.00" fill="#fb8c0c"/>
<polygon points="434.94,331.90 439.19,324.50 430.69,324.50" fill="#4d1f6e"/>
<circle cx="408.46" cy="347.80" r="4.45" fill="#0b6a4f"/>
<rect x="368.61" y="347.85" width="7.90" height="7.90" fill="#8a86c4"/>
<polygon points="443.98,270.86 449.08,279.74 438.88,279.74" fill="#3d4a5e"/>
<polygon points="410.43,361.34 415.53,352.46 405.33,352.46" fill="#27a3e0"/>
<polygon points="457.66,308.40 462.26,313.00 457.66,317.60 453.06,313.00" fill="#27a3e0"/>
<circle cx="97.72" cy="590.00" r="3.95" fill="#c8102e"/>
<polygon points="155.17,574.00 159.42,581.40 150.92,581.40" fill="#17497f"/>
<polygon points="134.16,605.90 138.41,613.30 129.91,613.30" fill="#36b34a"/>
<polygon points="172.14,563.95 176.39,568.20 172.14,572.45 167.89,568.20" fill="#fb8c0c"/>
<polygon points="171.19,556.30 175.44,548.90 166.94,548.90" fill="#4d1f6e"/>
<circle cx="144.84" cy="584.10" r="4.45" fill="#0b6a4f"/>
<rect x="105.17" y="604.35" width="7.90" height="7.90" fill="#8a86c4"/>
<polygon points="180.19,553.66 185.29,562.54 175.09,562.54" fill="#3d4a5e"/>
<polygon points="146.80,597.74 151.90,588.86 141.70,588.86" fill="#27a3e0"/>
<polygon points="193.80,484.10 198.40,488.70 193.80,493.30 189.20,488.70" fill="#27a3e0"/>
<circle cx="356.29" cy="579.50" r="3.95" fill="#c8102e"/>
<polygon points="414.86,509.00 419.11,516.40 410.61,516.40" fill="#17497f"/>
<polygon points="393.44,586.50 397.69,593.90 389.19,593.90" fill="#36b34a"/>
<polygon points="432.16,575.25 436.41,579.50 432.16,583.75 427.91,579.50" fill="#fb8c0c"/>
<polygon points="431.20,512.60 435.45,505.20 426.95,505.20" fill="#4d1f6e"/>
<circle cx="404.33" cy="578.40" r="4.45" fill="#0b6a4f"/>
<rect x="363.96" y="587.65" width="7.90" height="7.90" fill="#8a86c4"/>
<polygon points="440.36,535.16 445.46,544.04 435.26,544.04" fill="#3d4a5e"/>
<polygon points="406.33,579.04 411.43,570.16 401.23,570.16" fill="#27a3e0"/>
<polygon points="454.25,480.10 458.85,484.70 454.25,489.30 449.65,484.70" fill="#27a3e0"/>
<rect x="1" y="1" width="518" height="659" fill="none" stroke="#000" stroke-width="2"/>
</svg>
</body></html>
